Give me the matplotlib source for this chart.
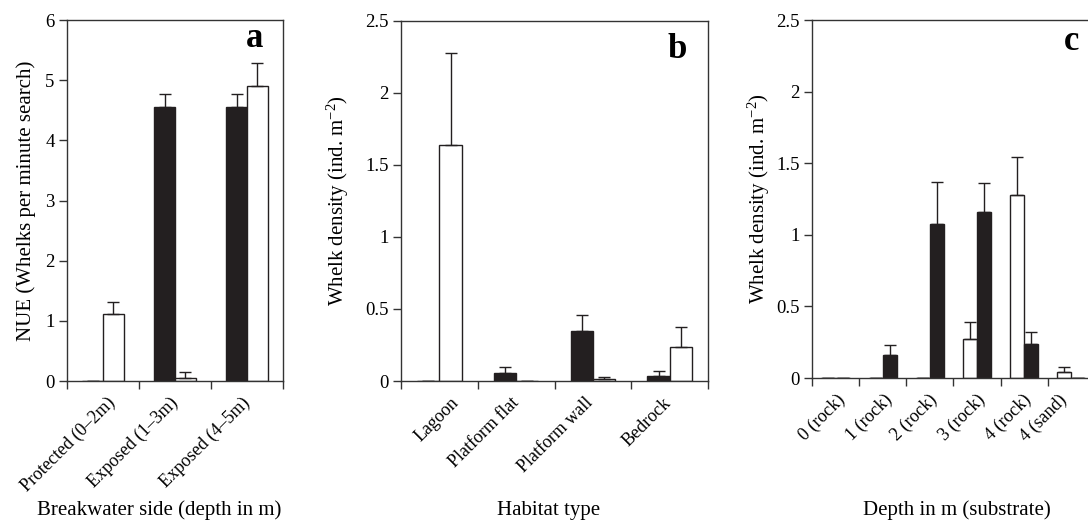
import matplotlib
matplotlib.use('Agg')
import matplotlib.pyplot as plt
import numpy as np

plt.rcParams['font.family'] = ['Liberation Serif', 'DejaVu Serif']
plt.rcParams['mathtext.fontset'] = 'custom'
plt.rcParams['mathtext.rm'] = 'Liberation Serif'
plt.rcParams['mathtext.default'] = 'regular'

# Panel a: NUE by breakwater side
a_cats = ['Protected (0–2m)', 'Exposed (1–3m)', 'Exposed (4–5m)']
a_black = [0.0, 4.56, 4.56]
a_black_err = [0.0, 0.22, 0.22]
a_white = [1.12, 0.055, 4.91]
a_white_err = [0.19, 0.09, 0.37]

# Panel b: density by habitat type
b_cats = ['Lagoon', 'Platform flat', 'Platform wall', 'Bedrock']
b_black = [0.0, 0.053, 0.348, 0.032]
b_black_err = [0.0, 0.044, 0.111, 0.040]
b_white = [1.636, 0.0, 0.016, 0.239]
b_white_err = [0.642, 0.0, 0.014, 0.136]

# Panel c: density by depth / substrate (white bar first)
c_cats = ['0 (rock)', '1 (rock)', '2 (rock)', '3 (rock)', '4 (rock)', '4 (sand)']
c_white = [0.0, 0.0, 0.0, 0.272, 1.279, 0.039]
c_white_err = [0.0, 0.0, 0.0, 0.116, 0.265, 0.035]
c_black = [0.0, 0.160, 1.079, 1.158, 0.241, 0.0]
c_black_err = [0.0, 0.072, 0.291, 0.205, 0.082, 0.0]

DARK = '#231f20'
EDGE = '#333333'


def panel(ax, cats, first, first_err, second, second_err, first_col, second_col,
          ylim, yticks, ylabels, letter, xlabel, ylabel, ylab_x, letter_xy,
          lab_shift, xlab_x, w=0.29):
    x = np.arange(len(cats))
    zeros = np.zeros(len(cats))
    ax.bar(x - w / 2, first, width=w, color=first_col, edgecolor=DARK, linewidth=1.0)
    ax.bar(x + w / 2, second, width=w, color=second_col, edgecolor=DARK, linewidth=1.0)
    ax.errorbar(x - w / 2, first, yerr=[zeros, first_err], fmt='none',
                ecolor=DARK, elinewidth=1.0, capsize=4.5, capthick=1.0)
    ax.errorbar(x + w / 2, second, yerr=[zeros, second_err], fmt='none',
                ecolor=DARK, elinewidth=1.0, capsize=4.5, capthick=1.0)
    ax.set_xlim(-0.5, len(cats) - 0.5)
    ax.set_ylim(*ylim)
    ax.set_yticks(yticks)
    ax.set_yticklabels(ylabels, fontsize=13.5)
    # labels sit at the group centres (slightly nudged), tick marks at the boundaries
    ax.set_xticks(x + np.array(lab_shift))
    ax.set_xticklabels(cats, rotation=45, ha='right', va='center',
                       rotation_mode='anchor', fontsize=13)
    ax.set_xticks(np.arange(len(cats) + 1) - 0.5, minor=True)
    ax.tick_params(axis='x', which='major', length=0, pad=14)
    ax.tick_params(axis='x', which='minor', length=6, width=1.0, color=EDGE, direction='out')
    ax.tick_params(axis='y', length=6, width=1.0, color=EDGE, direction='out', pad=3)
    for s in ax.spines.values():
        s.set_color(EDGE)
        s.set_linewidth(1.0)
    # x labels share one baseline across the three panels
    ax.set_xlabel(xlabel, fontsize=15)
    ax.xaxis.set_label_coords(xlab_x, 0.043, transform=ax.figure.transFigure)
    ax.set_ylabel(ylabel, fontsize=15)
    ax.yaxis.set_label_coords(ylab_x, 0.5)
    ax.text(letter_xy[0], letter_xy[1], letter, transform=ax.transAxes,
            fontsize=25, fontweight='bold', ha='center', va='center')


fig = plt.figure(figsize=(10.88, 5.23), dpi=100)

ax_a = fig.add_axes([0.0616, 0.2715, 0.1985, 0.690])
panel(ax_a, a_cats, a_black, a_black_err, a_white, a_white_err, DARK, 'white',
      (0, 6), range(7), [str(v) for v in range(7)], 'a',
      'Breakwater side (depth in m)', 'NUE (Whelks per minute search)',
      -0.144, (0.87, 0.95), [0.14, 0.0, 0.0], 0.146)

ax_b = fig.add_axes([0.3686, 0.2715, 0.2822, 0.689])
dens_ticks = [0, 0.5, 1, 1.5, 2, 2.5]
dens_labels = ['0', '0.5', '1', '1.5', '2', '2.5']
panel(ax_b, b_cats, b_black, b_black_err, b_white, b_white_err, DARK, 'white',
      (0, 2.5), dens_ticks, dens_labels, 'b',
      'Habitat type', 'Whelk density (ind. m$^{-2}$)',
      -0.163, (0.90, 0.92), [0.22, 0.0, -0.03, -0.02], 0.5046)

ax_c = fig.add_axes([0.7463, 0.2772, 0.260, 0.6845])
panel(ax_c, c_cats, c_white, c_white_err, c_black, c_black_err, 'white', DARK,
      (0, 2.5), dens_ticks, dens_labels, 'c',
      'Depth in m (substrate)', 'Whelk density (ind. m$^{-2}$)',
      -0.142, (0.919, 0.94), [0.14, 0.14, 0.1, 0.12, 0.1, -0.15],
      0.8796, w=0.30)

fig.savefig('out.png', dpi=100)
